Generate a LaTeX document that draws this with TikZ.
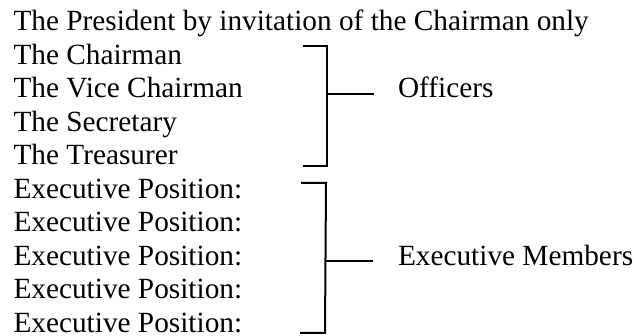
\documentclass[tikz,border=0pt]{standalone}
\usepackage{fontspec}
\setmainfont{Liberation Serif}
\begin{document}
\begin{tikzpicture}[x=0.5pt,y=-0.5pt,
  txt/.style={anchor=base west,inner sep=0pt,outer sep=0pt,font=\fontsize{14.65}{16}\selectfont},
  brk/.style={line width=1pt,line join=miter}]
\useasboundingbox (0,0) rectangle (633,336);
% left column
\node[txt] (l0) at (13.5,30.7) {The President by invitation of the Chairman only};
\node[txt] (l1) at (13.5,64.2) {The Chairman};
\node[txt] (l2) at (13.5,97.7) {The Vice Chairman};
\node[txt] (l3) at (13.5,131.2) {The Secretary};
\node[txt] (l4) at (13.5,164.7) {The Treasurer};
\node[txt] (l5) at (13.5,198.2) {Executive Position:};
\node[txt] (l6) at (13.5,231.7) {Executive Position:};
\node[txt] (l7) at (13.5,265.2) {Executive Position:};
\node[txt] (l8) at (13.5,298.7) {Executive Position:};
\node[txt] (l9) at (13.5,332.2) {Executive Position:};
% labels
\node[txt] (off) at (398,97.7) {Officers};
\node[txt] (exm) at (398,265.2) {Executive Members};
% officers bracket
\coordinate (oa) at (303,46);
\coordinate (ob) at (327,46);
\coordinate (oc) at (327,166);
\coordinate (od) at (303,166);
\coordinate (om) at (327,94);
\coordinate (ot) at (374,94);
\draw[brk] (oa) -- (ob) -- (oc) -- (od);
\draw[brk] (om) -- (ot);
% executive bracket
\coordinate (ea) at (301,183);
\coordinate (eb) at (326,183);
\coordinate (ec) at (325,333);
\coordinate (ed) at (300,333);
\coordinate (em) at (325.5,261);
\coordinate (et) at (373,261);
\draw[brk] (ea) -- (eb) -- (ec) -- (ed);
\draw[brk] (em) -- (et);
\end{tikzpicture}
\end{document}
